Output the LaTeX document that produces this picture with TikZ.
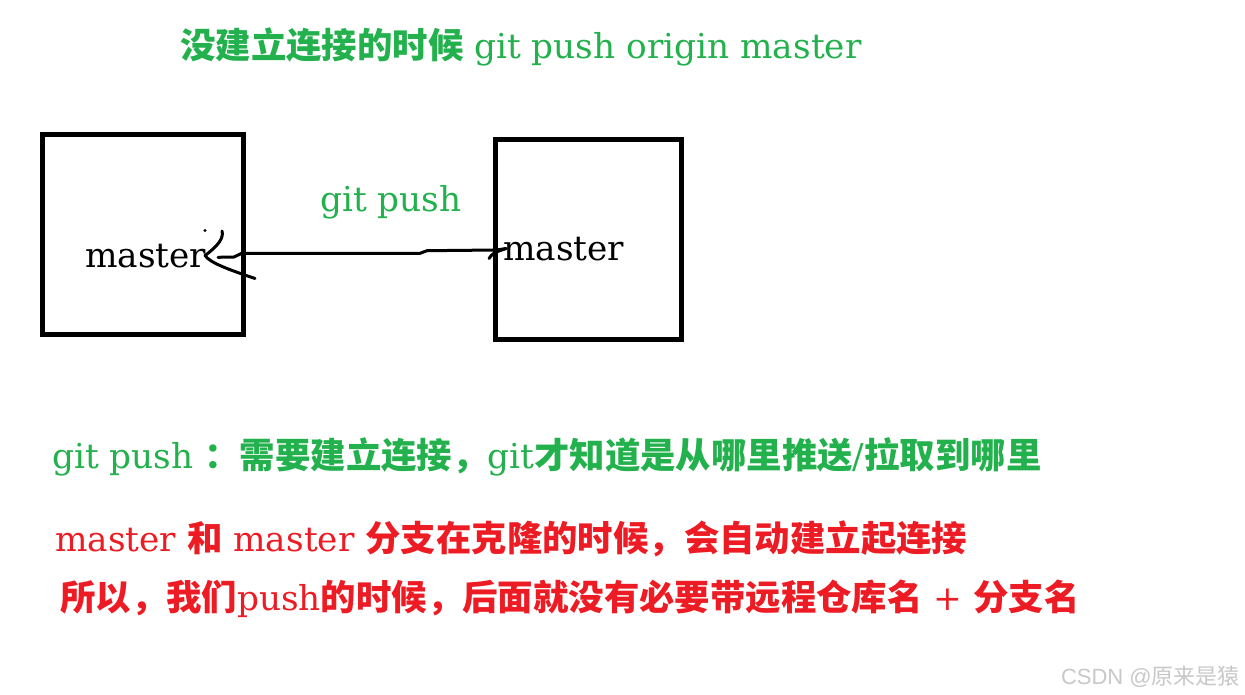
\documentclass[tikz,border=0pt]{standalone}
\usepackage{fontspec}
\setmainfont{DejaVu Serif}
\newfontfamily\cjk{Noto Sans CJK SC}
\newfontfamily\wmsans{Liberation Sans}
\newcommand\zh[1]{{\cjk\bfseries\fontsize{35.4}{40}\selectfont #1}}
\definecolor{pgreen}{RGB}{34,177,76}
\definecolor{pred}{RGB}{237,28,36}
\definecolor{wmgray}{RGB}{200,200,200}
\begin{document}
\begin{tikzpicture}[x=1pt,y=-1pt,
  txt/.style={anchor=base west,inner sep=0pt,font=\fontsize{34.3}{40}\selectfont},
  boxx/.style={draw=black,line width=5pt,inner sep=0pt},
  stroke/.style={draw=black,line width=3pt,line cap=round,line join=round}]
\useasboundingbox (0,0) rectangle (1245,695);
\fill[white] (0,0) rectangle (1245,695);
% title
\node[txt,text=pgreen] (title) at (180,59) {\zh{没建立连接的时候} git push origin master};
% boxes
\node[boxx,minimum width=201pt,minimum height=200pt] (b1) at (143,234.5) {};
\node[boxx,minimum width=186pt,minimum height=200pt] (b2) at (588.5,239.5) {};
\node[txt] (mL) at (85,267) {master};
\node[txt] (mR) at (503,260) {master};
\node[txt,text=pgreen] (gp) at (320,212) {git push};
% connector
\coordinate (c1) at (241.7,253.3);
\coordinate (c2) at (420,253.3);
\coordinate (c3) at (427,250.7);
\coordinate (c4) at (497,250);
\draw[stroke] (c1) -- (c2) -- (c3) -- (c4);
% hand-drawn left arrowhead
\coordinate (h0) at (205,230.5);
\fill (h0) circle (1.6pt);
\coordinate (h1) at (222,231);
\coordinate (h2) at (205,255.5);
\coordinate (h3) at (255,278.5);
\draw[stroke] (h1) .. controls (224,238) and (218,246) .. (h2);
\draw[stroke] (h2) .. controls (210,263) and (230,270) .. (h3);
\coordinate (d1) at (218,257.3);
\coordinate (d2) at (234,257);
\draw[stroke] (d1) -- (d2) .. controls (238,256) .. (c1);
% hand-drawn right arrowhead
\coordinate (r1) at (489,258.5);
\coordinate (r2) at (506,248.5);
\draw[stroke] (r1) .. controls (493,253) .. (r2);
\draw[stroke] (c4) -- (r2);
% notes
\node[txt,text=pgreen] (n1) at (52,468) {git push \zh{：需要建立连接，}git\zh{才知道是从哪里推送}/\zh{拉取到哪里}};
\node[txt,text=pred] (n2) at (55,551) {master \zh{和} master \zh{分支在克隆的时候，会自动建立起连接}};
\node[txt,text=pred] (n3) at (60,610) {\zh{所以，我们}push\zh{的时候，后面就没有必要带远程仓库名} + \zh{分支名}};
% watermark
\node[anchor=base east,inner sep=0pt,text=wmgray,font=\wmsans\fontsize{22}{24}\selectfont] (wm) at (1240,684) {CSDN @{\cjk 原来是猿}};
\end{tikzpicture}
\end{document}
